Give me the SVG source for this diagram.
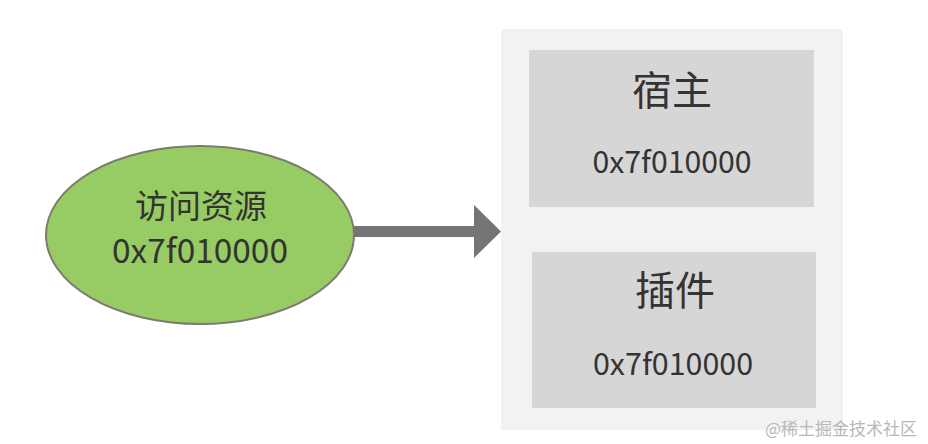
<svg xmlns="http://www.w3.org/2000/svg" width="928" height="444" viewBox="0 0 928 444">
<style>
  text { font-family: "Noto Sans CJK SC", "Liberation Sans", sans-serif; fill: #333333; text-anchor: middle; }
  .hex { font-size: 30px; }
  .big { font-size: 40px; }
  .panel { fill: #f2f2f2; }
  .box { fill: #d6d6d6; }
</style>
<rect width="928" height="444" fill="#ffffff"/>
<g id="container">
  <rect class="panel" x="501" y="29" width="342" height="401" rx="2"/>
</g>
<g id="host">
  <rect class="box" x="529" y="50" width="285" height="157"/>
  <text class="big" x="672" y="105">宿主</text>
  <text class="hex" x="672" y="173" textLength="159" lengthAdjust="spacingAndGlyphs">0x7f010000</text>
</g>
<g id="plugin">
  <rect class="box" x="532" y="252" width="284" height="156"/>
  <text class="big" x="675" y="305">插件</text>
  <text class="hex" x="673" y="375" textLength="160" lengthAdjust="spacingAndGlyphs">0x7f010000</text>
</g>
<g id="connectors">
  <polygon fill="#757575" points="352,226 474,226 474,205 501,231.5 474,258 474,237 352,237"/>
</g>
<g id="access">
  <ellipse cx="200" cy="235" rx="154" ry="89" fill="#97cb64" stroke="#7a7d6c" stroke-width="2"/>
  <text x="201" y="218" style="font-size:33px">访问资源</text>
  <text x="200" y="263" style="font-size:33px" textLength="176" lengthAdjust="spacingAndGlyphs">0x7f010000</text>
</g>
<text x="841" y="435" style="font-size:17px; fill:#b8b8b8">@稀土掘金技术社区</text>
</svg>
